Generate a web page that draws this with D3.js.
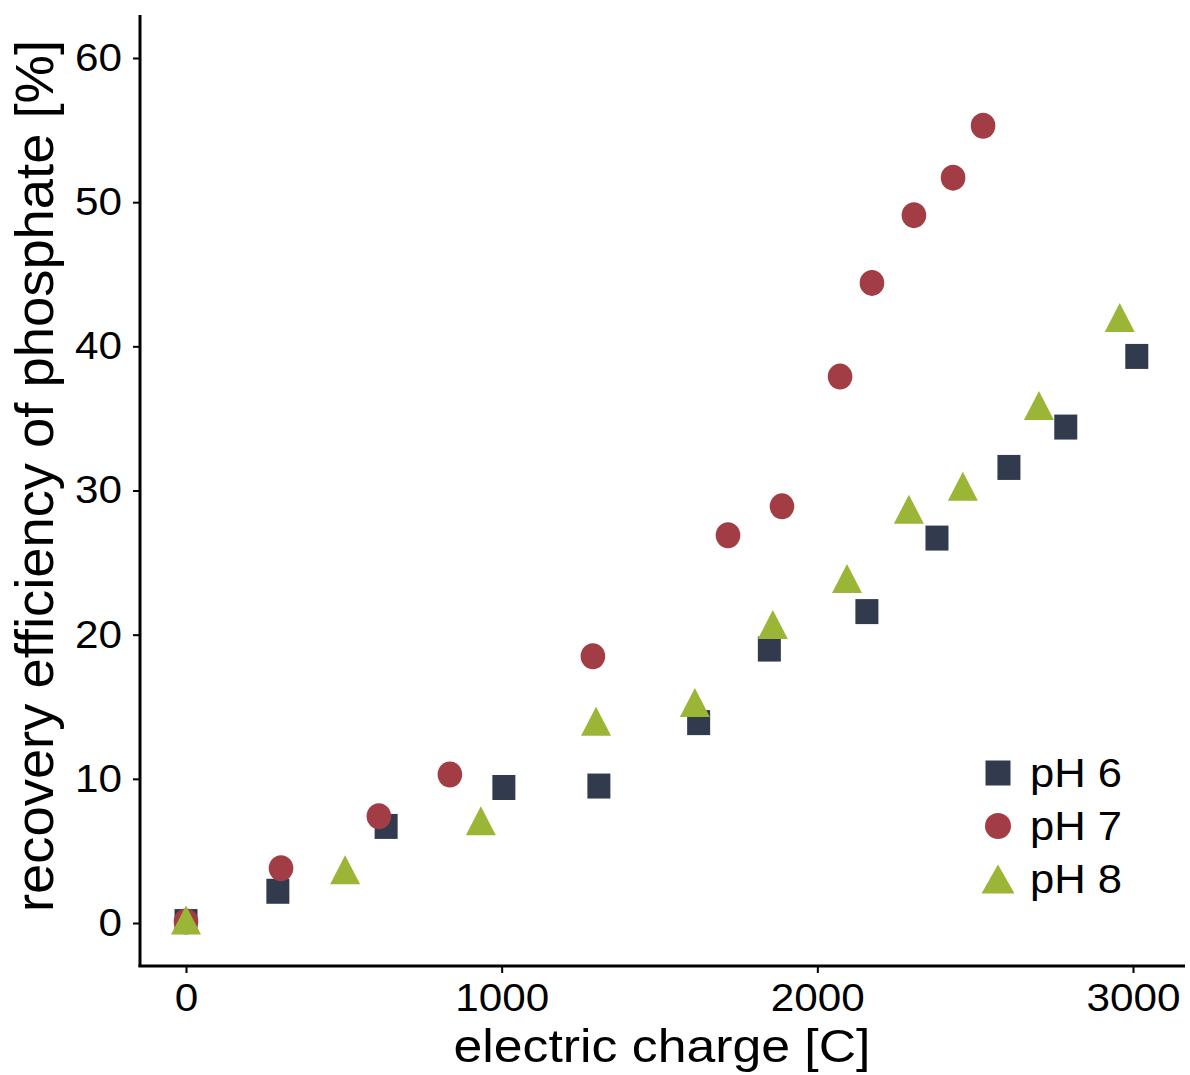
<!DOCTYPE html>
<html>
<head>
<meta charset="utf-8">
<script src="https://cdn.jsdelivr.net/npm/d3@7"></script>
<style>
  body { margin: 0; background: #fff; }
  text { font-family: "Liberation Sans", Arial, sans-serif; fill: #000; }
</style>
</head>
<body>
<div id="chart"></div>
<script>
// series: electric charge [C] and recovery efficiency [%]
const ph6Charge = [0, 291, 634, 1007, 1308, 1624, 1848, 2157, 2379, 2607, 2787, 3012];
const ph6Recovery = [0.1, 2.2, 6.7, 9.4, 9.5, 13.9, 19.0, 21.6, 26.7, 31.6, 34.4, 39.3];

const ph7Charge = [0, 301, 611, 836, 1289, 1717, 1888, 2072, 2173, 2306, 2430, 2525];
const ph7Recovery = [0.1, 3.8, 7.4, 10.3, 18.5, 26.9, 28.9, 37.9, 44.4, 49.1, 51.7, 55.3];

const ph8Charge = [0, 504, 934, 1299, 1612, 1859, 2094, 2290, 2461, 2702, 2958];
const ph8Recovery = [0.2, 3.7, 7.1, 14.0, 15.3, 20.7, 23.9, 28.7, 30.3, 35.9, 42.0];

const seriesNames = ['pH 6', 'pH 7', 'pH 8'];
const xTicks = [0, 1000, 2000, 3000];
const yTicks = [0, 10, 20, 30, 40, 50, 60];

const W = 1190, H = 1075;
const plot = { left: 140, right: 1185, top: 15, bottom: 966 };

const colors = { 'pH 6': '#323b4d', 'pH 7': '#a23c45', 'pH 8': '#9bb636' };
const shapes = { 'pH 6': 'square', 'pH 7': 'circle', 'pH 8': 'triangle' };

const series = [
    { name: 'pH 6', pts: ph6Charge.map((c, i) => [c, ph6Recovery[i]]) },
    { name: 'pH 7', pts: ph7Charge.map((c, i) => [c, ph7Recovery[i]]) },
    { name: 'pH 8', pts: ph8Charge.map((c, i) => [c, ph8Recovery[i]]) }
];

const x = d3.scaleLinear().domain([0, 3000]).range([186, 1133]);
const y = d3.scaleLinear().domain([0, 60]).range([923, 58]);

const svg = d3.select('#chart').append('svg')
    .attr('width', W).attr('height', H);

// draw one marker of a given shape centred at 0,0
function marker(sel, name, size) {
    const s = shapes[name], c = colors[name];
    if (s === 'square') {
        sel.append('rect')
            .attr('x', -size.sq / 2).attr('y', -size.sqh / 2)
            .attr('width', size.sq).attr('height', size.sqh)
            .attr('fill', c);
    } else if (s === 'circle') {
        sel.append('ellipse')
            .attr('rx', size.r).attr('ry', size.ry)
            .attr('fill', c);
    } else {
        const b = size.tb / 2, h = size.th / 2;
        sel.append('path')
            .attr('d', `M0,${-h}L${b},${h}L${-b},${h}Z`)
            .attr('fill', c);
    }
}

const ptSize = { sq: 23, sqh: 25, r: 12.3, ry: 13, tb: 30, th: 29 };

// points
series.forEach(s => {
    const g = svg.append('g').attr('class', 'series');
    s.pts.forEach(p => {
        const m = g.append('g').attr('transform', `translate(${x(p[0])},${y(p[1])})`);
        marker(m, s.name, ptSize);
    });
});

// axes
const fmt = d3.format('d');
const xAxis = svg.append('g')
    .attr('transform', `translate(0,${plot.bottom})`)
    .call(d3.axisBottom(x).tickValues(xTicks).tickFormat(fmt).tickSize(7).tickSizeOuter(0).tickPadding(10));
const yAxis = svg.append('g')
    .attr('transform', `translate(${plot.left},0)`)
    .call(d3.axisLeft(y).tickValues(yTicks).tickFormat(fmt).tickSize(7).tickSizeOuter(0).tickPadding(11));

[xAxis, yAxis].forEach(a => {
    a.select('.domain').remove();
    a.selectAll('.tick line').attr('stroke', '#000').attr('stroke-width', 2);
    a.selectAll('.tick text')
        .attr('font-size', 39)
        .attr('font-family', '"Liberation Sans", Arial, sans-serif')
        .attr('fill', '#000')
        .attr('textLength', d => String(d).length * 23.5)
        .attr('lengthAdjust', 'spacingAndGlyphs');
});
xAxis.selectAll('.tick text').attr('dy', '0.71em');

svg.append('line')
    .attr('x1', plot.left).attr('x2', plot.left)
    .attr('y1', plot.top).attr('y2', plot.bottom + 1)
    .attr('stroke', '#000').attr('stroke-width', 3);
svg.append('line')
    .attr('x1', plot.left - 1.5).attr('x2', plot.right)
    .attr('y1', plot.bottom).attr('y2', plot.bottom)
    .attr('stroke', '#000').attr('stroke-width', 3);

// axis titles
svg.append('text')
    .attr('x', 662).attr('y', 1062)
    .attr('text-anchor', 'middle')
    .attr('font-size', 46)
    .attr('textLength', 417).attr('lengthAdjust', 'spacingAndGlyphs')
    .text('electric charge [C]');

svg.append('text')
    .attr('transform', 'translate(53,476) rotate(-90)')
    .attr('text-anchor', 'middle')
    .attr('font-size', 53)
    .attr('textLength', 872).attr('lengthAdjust', 'spacingAndGlyphs')
    .text('recovery efficiency of phosphate [%]');

// legend
const legSize = { sq: 25, sqh: 25, r: 13, ry: 13, tb: 33, th: 29 };
const legend = svg.append('g').attr('transform', 'translate(998,773)');
seriesNames.forEach((n, i) => {
    const row = legend.append('g').attr('transform', `translate(0,${i * 53})`);
    marker(row, n, legSize);
    row.append('text')
        .attr('x', 32).attr('y', 14)
        .attr('font-size', 40)
        .attr('textLength', 92).attr('lengthAdjust', 'spacingAndGlyphs')
        .text(n);
});
</script>
</body>
</html>
